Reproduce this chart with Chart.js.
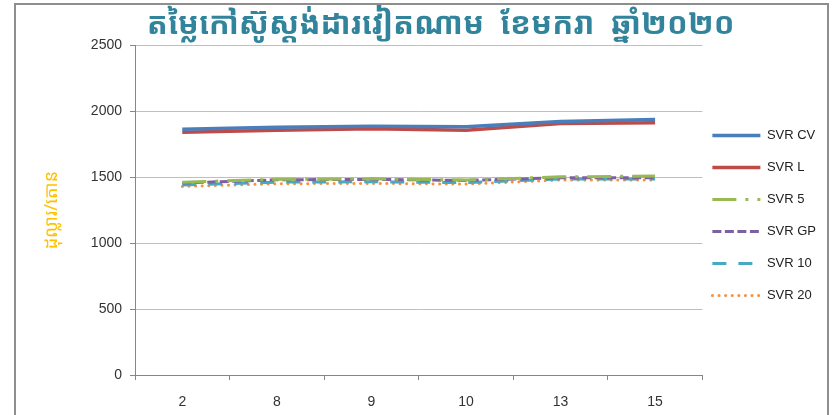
<!DOCTYPE html>
<html>
<head>
<meta charset="utf-8">
<script src="https://cdn.jsdelivr.net/npm/chart.js@4/dist/chart.umd.min.js"></script>
<style>
  html, body { margin: 0; padding: 0; background: #fff; }
  #wrap { position: relative; width: 836px; height: 415px; }
  #frame { position: absolute; left: 14px; top: 3px; width: 815px; height: 420px;
           border: 2px solid #8e8e8e; box-sizing: border-box; pointer-events: none; }
</style>
</head>
<body>
<div id="wrap">
  <canvas id="price-chart" width="836" height="415"></canvas>
  <div id="frame"></div>
</div>
<script>
var ctx = document.getElementById('price-chart');

// days of January 2020
var days = ['2', '8', '9', '10', '13', '15'];
var svrCV = [1862, 1878, 1886, 1881, 1922, 1937];
var svrL  = [1840, 1856, 1866, 1856, 1906, 1913];
var svr5  = [1462, 1483, 1487, 1478, 1502, 1508];
var svrGP = [1455, 1480, 1483, 1475, 1495, 1496];
var svr10 = [1440, 1462, 1465, 1458, 1486, 1486];
var svr20 = [1429, 1450, 1452, 1447, 1478, 1478];
var yTicks = [0, 500, 1000, 1500, 2000, 2500];

function line(label, values, color, width, dash, cap) {
    return {
        label: label,
        data: values,
        borderColor: color,
        backgroundColor: color,
        borderWidth: width,
        borderDash: dash,
        borderCapStyle: cap || 'butt',
        pointRadius: 0,
        tension: 0,
        fill: false
    };
}

const data = {
    labels: days,
    datasets: [
        line('SVR CV', svrCV, '#4a7ebb', 3.5, []),
        line('SVR L', svrL, '#be4b48', 3.5, []),
        line('SVR 5', svr5, '#98b954', 3, [24, 9, 3, 9]),
        line('SVR GP', svrGP, '#7d60a0', 3, [9, 3.5]),
        line('SVR 10', svr10, '#46aac5', 3, [14, 12]),
        line('SVR 20', svr20, '#f69240', 3, [0.1, 6.5], 'round')
    ]
};

// legend lines keep the dash of their dataset
function legendLabels(chart) {
    var items = Chart.defaults.plugins.legend.labels.generateLabels(chart);
    items.forEach(function (it) {
        var ds = chart.data.datasets[it.datasetIndex];
        it.lineDash = ds.borderDash;
        it.lineCap = ds.borderCapStyle;
        it.lineWidth = ds.borderWidth;
        it.strokeStyle = ds.borderColor;
        it.fillStyle = ds.borderColor;
    });
    return items;
}

// legend overlaps the plot edge a little, like the excel one
var legendNudge = {
    id: 'legendNudge',
    beforeLayout: function (chart) {
        var lg = chart.legend;
        if (lg && !lg._nudged) {
            var fit = lg.fit;
            lg.fit = function () { fit.call(this); this.width -= 9; };
            lg._nudged = true;
        }
    },
    afterLayout: function (chart) {
        var lg = chart.legend;
        lg.left -= 9;
        lg.top += 8;
        lg.bottom += 8;
    }
};

const config = {
    type: 'line',
    data: data,
    plugins: [legendNudge],
    options: {
        responsive: false,
        animation: false,
        layout: { padding: { left: 15, right: 10, top: 0, bottom: 0 } },
        scales: {
            x: {
                offset: true,
                grid: { drawOnChartArea: false, color: '#868686', tickLength: 5, offset: true },
                border: { color: '#868686' },
                ticks: { color: '#333', padding: 14, font: { family: 'Liberation Sans', size: 14 } },
                afterFit: function (s) { s.height = 40; }
            },
            y: {
                min: 0,
                max: 2500,
                afterBuildTicks: function (s) { s.ticks = yTicks.map(function (v) { return { value: v }; }); },
                grid: { color: '#bfbfbf', tickColor: '#868686', tickLength: 5 },
                border: { color: '#868686' },
                ticks: {
                    color: '#333', padding: 8, font: { family: 'Liberation Sans', size: 14 },
                    callback: function (v) { return String(v); }
                },
                title: {
                    display: true,
                    text: 'ដុល្លារ/តោន',
                    color: '#ffc000',
                    padding: { top: 26, bottom: 0 },
                    font: { family: "'Noto Sans Khmer', 'Khmer OS', 'Noto Sans', sans-serif", size: 18 }
                },
                afterFit: function (s) { s.width = 120; }
            }
        },
        plugins: {
            title: {
                display: true,
                text: '     តម្លៃកៅស៊ូស្តង់ដារវៀតណាម  ខែមករា  ឆ្នាំ២០២០',
                color: '#31849b',
                padding: { top: 7, bottom: 1 },
                font: { family: "'Noto Sans Khmer', 'Khmer OS', 'Noto Sans', sans-serif", size: 31, weight: 'bold' }
            },
            legend: {
                position: 'right',
                labels: {
                    usePointStyle: true,
                    pointStyle: 'line',
                    pointStyleWidth: 48,
                    color: '#222',
                    padding: 19,
                    font: { family: 'Liberation Sans', size: 13 },
                    generateLabels: legendLabels
                }
            },
            tooltip: { enabled: false }
        }
    }
};

var myChart = new Chart(ctx, config);
</script>
</body>
</html>
